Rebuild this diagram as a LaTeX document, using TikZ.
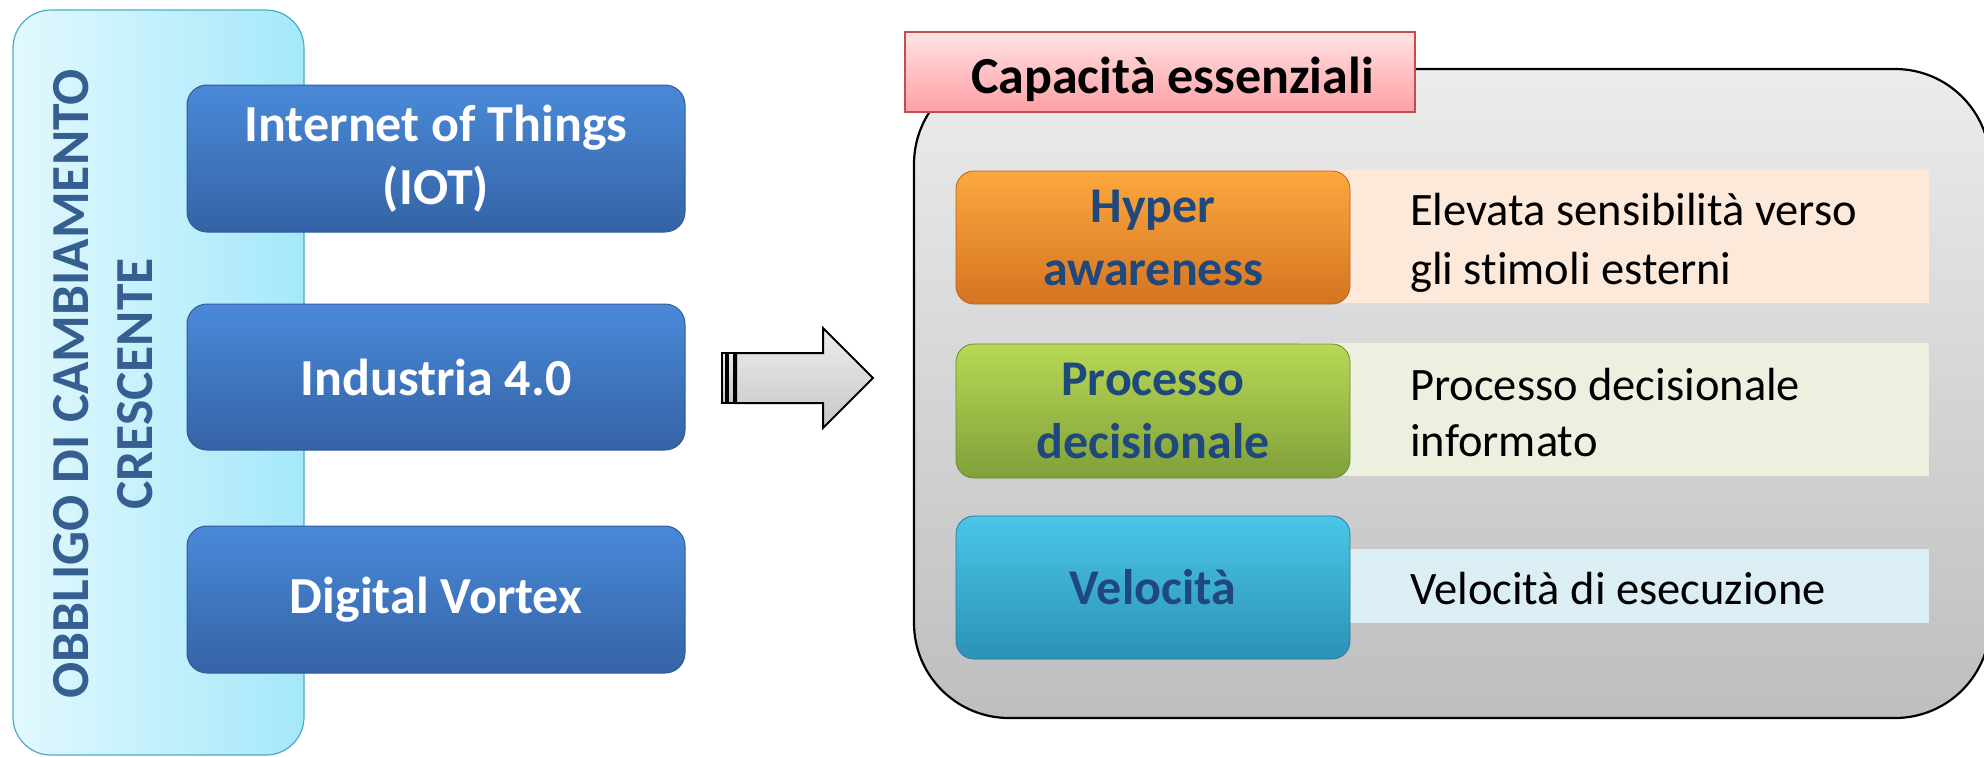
\documentclass[tikz,border=0pt]{standalone}
\usepackage{fontspec}
\setmainfont[Ligatures=NoCommon]{Carlito}
\definecolor{blueTop}{RGB}{74,137,216}
\definecolor{blueBot}{RGB}{52,99,165}
\definecolor{blueBorder}{RGB}{50,90,150}
\definecolor{panelL}{RGB}{226,248,254}
\definecolor{panelR}{RGB}{164,232,250}
\definecolor{panelBorder}{RGB}{75,172,198}
\definecolor{vtext}{RGB}{54,95,145}
\definecolor{pinkTop}{RGB}{255,226,226}
\definecolor{pinkBot}{RGB}{255,160,165}
\definecolor{pinkBorder}{RGB}{192,80,77}
\definecolor{greyTop}{RGB}{236,236,236}
\definecolor{greyBot}{RGB}{190,190,190}
\definecolor{orTop}{RGB}{252,168,62}
\definecolor{orBot}{RGB}{212,116,34}
\definecolor{grTop}{RGB}{184,216,86}
\definecolor{grBot}{RGB}{128,160,58}
\definecolor{cyTop}{RGB}{74,198,230}
\definecolor{cyBot}{RGB}{44,146,182}
\definecolor{bandO}{RGB}{252,233,218}
\definecolor{bandG}{RGB}{235,241,222}
\definecolor{bandC}{RGB}{219,238,244}
\definecolor{lblue}{RGB}{31,73,125}
\begin{document}
\begin{tikzpicture}[x=1pt,y=-1pt,
  bluebox/.style={draw=blueBorder, line width=1pt, rounded corners=20pt,
    top color=blueTop, bottom color=blueBot, minimum width=498pt,
    text=white, font=\bfseries\fontsize{52}{63}\selectfont, align=center, inner sep=0pt},
  capbox/.style={line width=0.8pt, rounded corners=18pt, minimum width=394pt,
    text=lblue, font=\bfseries\fontsize{50}{63}\selectfont, align=center, inner sep=0pt},
  band/.style={inner sep=0pt, minimum width=629pt, anchor=west},
  desc/.style={anchor=west, align=left, inner sep=0pt, text=black,
    font=\fontsize{46.5}{59}\selectfont},
  arrowpart/.style={draw=black, line width=2pt, top color=white!93!black, bottom color=white!78!black}
]
\useasboundingbox (0,0) rectangle (1984,756);

% left panel
\draw[panelBorder, line width=1.2pt, left color=panelL, right color=panelR, rounded corners=38pt]
  (13,10) rectangle (304,755);
\node[rotate=90, align=center, text=vtext, font=\bfseries\fontsize{53.5}{64}\selectfont, inner sep=0pt]
  (vt) at (103,384) {OBBLIGO DI CAMBIAMENTO\\CRESCENTE};

% blue boxes
\node[bluebox, minimum height=147pt] (iot) at (436,158.5) {Internet of Things\\(IOT)};
\node[bluebox, minimum height=146pt] (ind) at (436,377) {Industria 4.0};
\node[bluebox, minimum height=147pt] (dv) at (436,599.5) {Digital Vortex};

% block arrow
\draw[arrowpart, line width=1.6pt] (722,353) rectangle (726,403);
\draw[arrowpart, line width=1.6pt] (728,353) rectangle (734,403);
\draw[arrowpart, line join=miter] (736,353) -- (823,353) -- (823,328) -- (873,378) -- (823,428) -- (823,403) -- (736,403) -- cycle;

% big right panel
\draw[black, line width=2.2pt, top color=greyTop, bottom color=greyBot, rounded corners=95pt]
  (914,69) rectangle (1990,718);
\node[draw=pinkBorder, line width=1.2pt, top color=pinkTop, bottom color=pinkBot,
  minimum width=510pt, minimum height=80pt, inner sep=0pt] (title) at (1160,72) {};
\node[anchor=base, inner sep=0pt, font=\bfseries\fontsize{52}{60}\selectfont] (tt) at (1172.5,93) {Capacità essenziali};

% rows
\node[band, fill=bandO, minimum height=133pt] (b1) at (1300,236.5) {};
\node[band, fill=bandG, minimum height=133pt] (b2) at (1300,409.5) {};
\node[band, fill=bandC, minimum height=74pt] (b3) at (1300,586) {};

\node[capbox, draw=orBot!85!black, top color=orTop, bottom color=orBot, minimum height=133pt] (hy) at (1153,237.5) {Hyper\\awareness};
\node[capbox, draw=grBot!85!black, top color=grTop, bottom color=grBot, minimum height=134pt] (pd) at (1153,411) {Processo\\decisionale};
\node[capbox, draw=cyBot!85!black, top color=cyTop, bottom color=cyBot, minimum height=143pt] (ve) at (1153,587.5) {Velocità};

\node[desc] (d1) at (1410,243) {Elevata sensibilità verso\\gli stimoli esterni};
\node[desc, font=\fontsize{46.5}{56}\selectfont] (d2) at (1410,413) {Processo decisionale\\informato};
\node[desc] (d3) at (1410,589) {Velocità di esecuzione};
\end{tikzpicture}
\end{document}
